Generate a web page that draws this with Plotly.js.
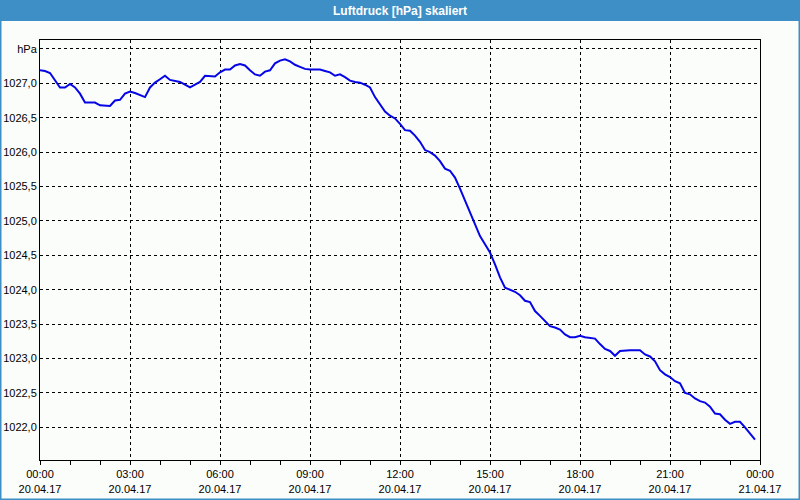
<!DOCTYPE html>
<html>
<head>
<meta charset="utf-8">
<script src="https://cdn.plot.ly/plotly-3.0.1.min.js"></script>
<style>
  html, body { margin: 0; padding: 0; background: #fbfdfb; }
  #chart { width: 800px; height: 500px; }
</style>
</head>
<body>
<div id="chart"></div>
<script>
// Measurement day and times (10-minute readings)
const day = "2017-04-20";
const times = [
  "00:00","00:10","00:20","00:30","00:40","00:50",
  "01:00","01:10","01:20","01:30","01:40","01:50",
  "02:00","02:10","02:20","02:30","02:40","02:50",
  "03:00","03:10","03:20","03:30","03:40","03:50",
  "04:00","04:10","04:20","04:30","04:40","04:50",
  "05:00","05:10","05:20","05:30","05:40","05:50",
  "06:00","06:10","06:20","06:30","06:40","06:50",
  "07:00","07:10","07:20","07:30","07:40","07:50",
  "08:00","08:10","08:20","08:30","08:40","08:50",
  "09:00","09:10","09:20","09:30","09:40","09:50",
  "10:00","10:10","10:20","10:30","10:40","10:50",
  "11:00","11:10","11:20","11:30","11:40","11:50",
  "12:00","12:10","12:20","12:30","12:40","12:50",
  "13:00","13:10","13:20","13:30","13:40","13:50",
  "14:00","14:10","14:20","14:30","14:40","14:50",
  "15:00","15:10","15:20","15:30","15:40","15:50",
  "16:00","16:10","16:20","16:30","16:40","16:50",
  "17:00","17:10","17:20","17:30","17:40","17:50",
  "18:00","18:10","18:20","18:30","18:40","18:50",
  "19:00","19:10","19:20","19:30","19:40","19:50",
  "20:00","20:10","20:20","20:30","20:40","20:50",
  "21:00","21:10","21:20","21:30","21:40","21:50",
  "22:00","22:10","22:20","22:30","22:40","22:50",
  "23:00","23:10","23:20","23:30","23:40","23:50"
];

// Air pressure in hPa
const pressure = [
  1027.19,1027.18,1027.15,1027.05,1026.94,1026.94,
  1026.99,1026.94,1026.85,1026.72,1026.72,1026.72,
  1026.68,1026.67,1026.67,1026.75,1026.76,1026.85,
  1026.88,1026.86,1026.83,1026.80,1026.94,1027.01,
  1027.06,1027.11,1027.05,1027.04,1027.02,1026.98,
  1026.94,1026.98,1027.02,1027.11,1027.11,1027.10,
  1027.16,1027.20,1027.20,1027.26,1027.28,1027.26,
  1027.19,1027.13,1027.11,1027.17,1027.19,1027.29,
  1027.33,1027.35,1027.32,1027.27,1027.24,1027.21,
  1027.20,1027.20,1027.20,1027.18,1027.16,1027.11,
  1027.13,1027.09,1027.04,1027.02,1027.01,1026.98,
  1026.94,1026.80,1026.70,1026.59,1026.53,1026.49,
  1026.41,1026.32,1026.31,1026.24,1026.15,1026.03,
  1026.00,1025.95,1025.87,1025.76,1025.73,1025.63,
  1025.47,1025.30,1025.14,1024.97,1024.78,1024.66,
  1024.54,1024.37,1024.18,1024.03,1024.00,1023.97,
  1023.92,1023.84,1023.82,1023.69,1023.62,1023.55,
  1023.47,1023.45,1023.42,1023.35,1023.31,1023.31,
  1023.33,1023.31,1023.30,1023.29,1023.21,1023.14,
  1023.11,1023.04,1023.11,1023.12,1023.12,1023.12,
  1023.12,1023.06,1023.03,1022.96,1022.83,1022.77,
  1022.73,1022.67,1022.64,1022.50,1022.48,1022.42,
  1022.38,1022.36,1022.30,1022.20,1022.19,1022.11,
  1022.05,1022.08,1022.08,1022.00,1021.91,1021.82
];

// X tick positions and labels
const xTickVals = [
  "2017-04-20 00:00","2017-04-20 03:00","2017-04-20 06:00","2017-04-20 09:00",
  "2017-04-20 12:00","2017-04-20 15:00","2017-04-20 18:00","2017-04-20 21:00",
  "2017-04-21 00:00"
];
const xTickText = [
  "00:00<br>20.04.17","03:00<br>20.04.17","06:00<br>20.04.17","09:00<br>20.04.17",
  "12:00<br>20.04.17","15:00<br>20.04.17","18:00<br>20.04.17","21:00<br>20.04.17",
  "00:00<br>21.04.17"
];

// Y tick positions and labels
const yTickVals = [1022.0,1022.5,1023.0,1023.5,1024.0,1024.5,1025.0,1025.5,1026.0,1026.5,1027.0,1027.5];
const yTickText = ["1022,0","1022,5","1023,0","1023,5","1024,0","1024,5","1025,0","1025,5","1026,0","1026,5","1027,0","hPa"];

const titleText = "Luftdruck [hPa] skaliert";

const x = times.map(t => day + " " + t);

const W = 800, H = 500, ML = 40, MR = 40, MT = 40, MB = 40;
const pw = W - ML - MR, ph = H - MT - MB;
const px = p => (p - ML) / pw;          // pixel x -> paper
const py = p => (H - MB - p) / ph;      // pixel y -> paper
const frameBlue = "#3d8fc6";

const trace = {
  type: "scatter",
  mode: "lines",
  x: x,
  y: pressure,
  line: { color: "#0505e6", width: 2 },
  hoverinfo: "x+y"
};

const layout = {
  width: W, height: H,
  margin: { l: ML, r: MR, t: MT, b: MB, pad: 0 },
  paper_bgcolor: "#fbfdfb",
  plot_bgcolor: "#fbfdfb",
  showlegend: false,
  font: { family: "Liberation Sans, Arial, sans-serif", size: 11, color: "#000" },
  title: {
    text: titleText,
    font: { family: "Liberation Sans, Arial, sans-serif", size: 12, color: "#ffffff", weight: "bold" },
    x: 0.5, xref: "container", xanchor: "center",
    y: 1 - 10.5 / H, yref: "container", yanchor: "middle"
  },
  xaxis: {
    type: "date",
    range: ["2017-04-20 00:00", "2017-04-21 00:00"],
    tickmode: "array",
    tickvals: xTickVals,
    ticktext: xTickText,
    ticks: "outside", ticklen: 4, tickcolor: "#000", tickwidth: 1,
    showgrid: true, gridcolor: "#000", gridwidth: 1, griddash: "3px,3px",
    showline: true, linecolor: "#000", linewidth: 1, mirror: true,
    zeroline: false,
    minor: { dtick: 3600000, ticks: "outside", ticklen: 4, tickcolor: "#000", showgrid: false },
    tickfont: { size: 11, color: "#000" },
    fixedrange: true
  },
  yaxis: {
    range: [1021.525, 1027.63],
    tickmode: "array",
    tickvals: yTickVals,
    ticktext: yTickText,
    ticks: "",
    showgrid: true, gridcolor: "#000", gridwidth: 1, griddash: "3px,3px",
    showline: true, linecolor: "#000", linewidth: 1, mirror: true,
    zeroline: false,
    tickfont: { size: 11, color: "#000" },
    fixedrange: true
  },
  shapes: [
    { type: "rect", xref: "paper", yref: "paper",
      x0: px(0), x1: px(W), y0: py(21), y1: py(0),
      fillcolor: frameBlue, line: { width: 0 }, layer: "above" },
    { type: "rect", xref: "paper", yref: "paper",
      x0: px(0.5), x1: px(W - 0.5), y0: py(H - 0.5), y1: py(0.5),
      fillcolor: "rgba(0,0,0,0)", line: { color: frameBlue, width: 2 }, layer: "above" }
  ]
};

Plotly.newPlot("chart", [trace], layout, { displayModeBar: false, staticPlot: true });
</script>
</body>
</html>
